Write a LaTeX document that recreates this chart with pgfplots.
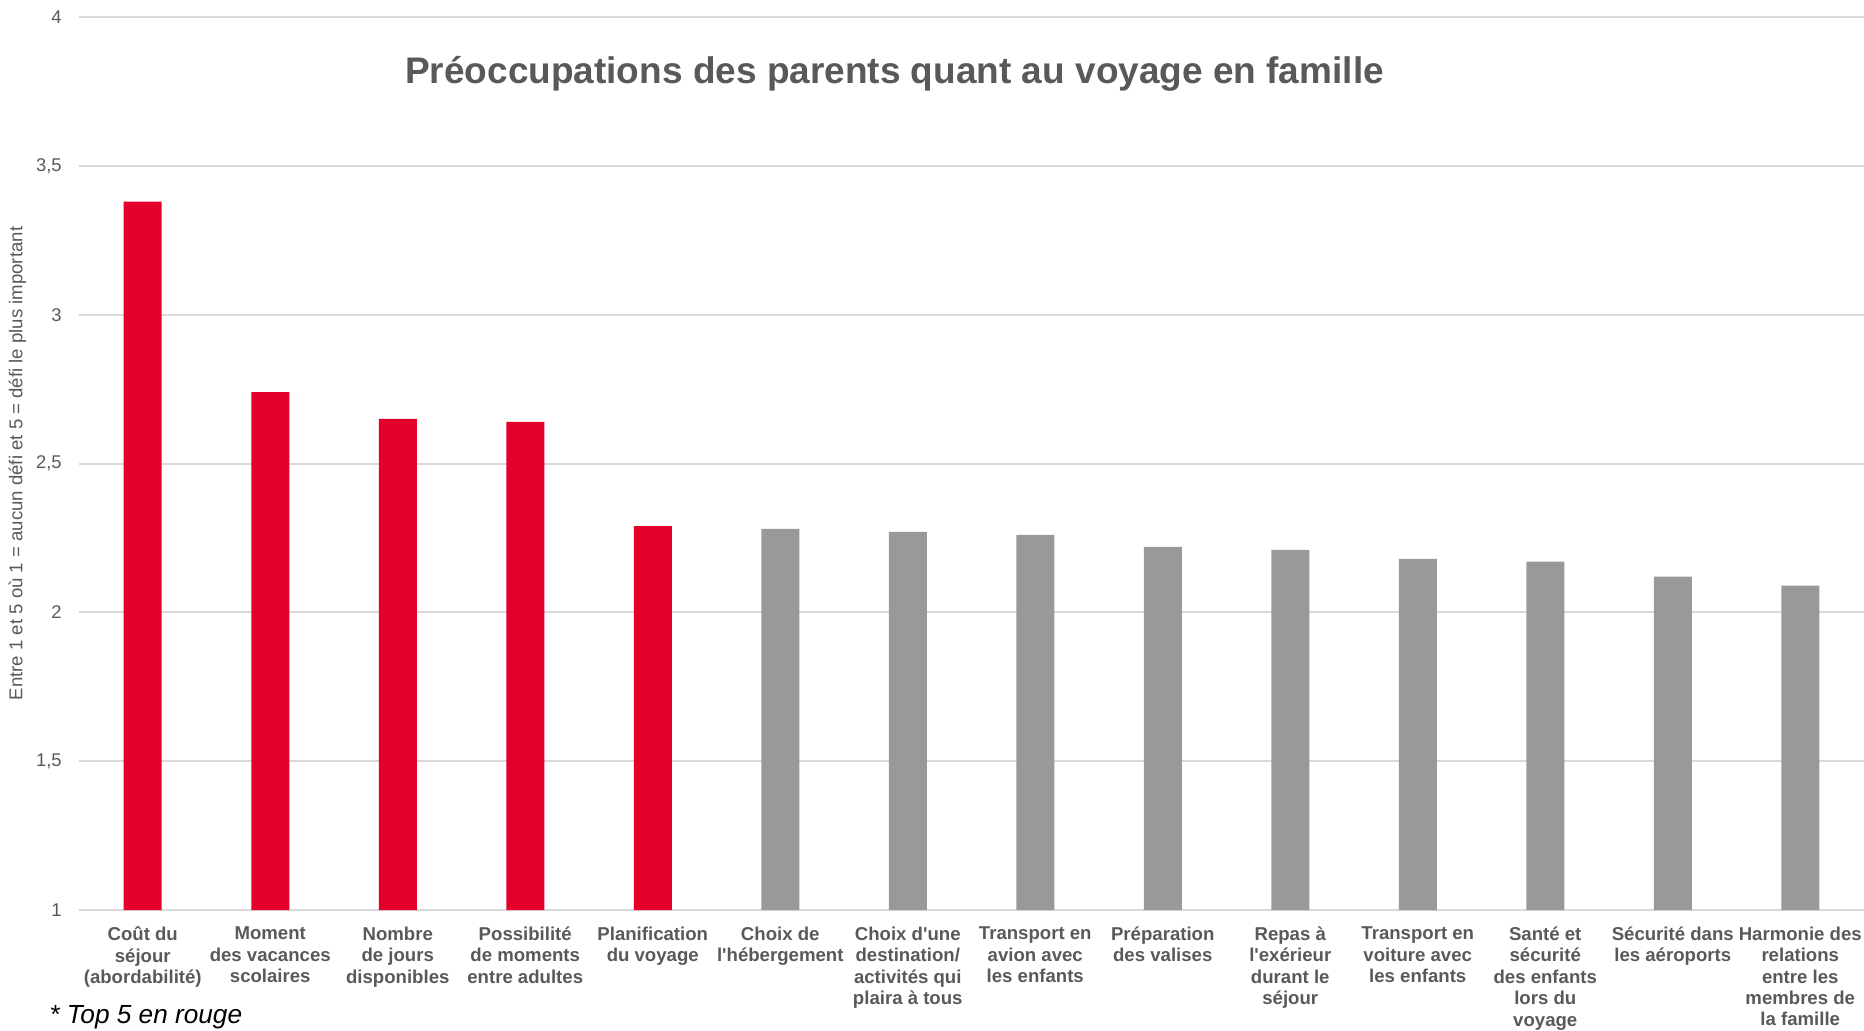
\documentclass[border=0pt]{standalone}
\usepackage{pgfplots}
\pgfplotsset{compat=1.18}
\usepackage{fontspec}
\setmainfont{Liberation Sans}
\definecolor{myred}{RGB}{228,0,43}
\definecolor{mygrey}{RGB}{153,153,153}
\definecolor{txt}{RGB}{89,89,89}
\definecolor{gridc}{RGB}{217,217,217}
\newcommand{\q}{\textquotesingle}
\begin{document}
\begin{tikzpicture}
\begin{axis}[
  scale only axis, width=892.5pt, height=446.5pt,
  xmin=-0.5, xmax=13.5, ymin=1, ymax=4,
  ytick={1,1.5,2,2.5,3,3.5,4},
  xtick={0,1,2,3,4,5,6,7,8,9,10,11,12,13},
  xticklabels={
    {Coût du\\séjour\\(abordabilité)},
    {Moment\\des vacances\\scolaires},
    {Nombre\\de jours\\disponibles},
    {Possibilité\\de moments\\entre adultes},
    {Planification\\du voyage},
    {Choix de\\l\q hébergement},
    {Choix d\q une\\destination/\\activités qui\\plaira à tous},
    {Transport en\\avion avec\\les enfants},
    {Préparation\\des valises},
    {Repas à\\l\q exérieur\\durant le\\séjour},
    {Transport en\\voiture avec\\les enfants},
    {Santé et\\sécurité\\des enfants\\lors du\\voyage},
    {Sécurité dans\\les aéroports},
    {Harmonie des\\relations\\entre les\\membres de\\la famille}},
  axis line style={draw=none},
  major tick length=0pt,
  tick style={draw=none},
  ymajorgrids, grid style={draw=gridc, line width=1pt},
  /pgf/number format/use comma,
  /pgf/number format/assume math mode=true,
  xticklabel style={font=\bfseries\fontsize{9.3}{10.7}\selectfont, text=txt, align=center, anchor=north, inner sep=0pt, yshift=-8.2pt},
  yticklabel style={font=\fontsize{9.2}{11}\selectfont, text=txt, anchor=east, inner sep=0pt, xshift=-8.5pt},
  title={Préoccupations des parents quant au voyage en famille},
  every axis title/.style={at={(axis description cs:0.4569,0.926)}, anchor=base, font=\bfseries\fontsize{18.5}{22}\selectfont, text=txt},
  ylabel={Entre 1 et 5 où 1 = aucun défi et 5 = défi le plus important},
  ylabel style={at={(axis description cs:-0.0345,0.5)}, anchor=center, font=\fontsize{9.3}{11}\selectfont, text=txt},
]
\addplot[ybar, bar width=19pt, fill=myred, draw=none] coordinates {(0,3.38) (1,2.74) (2,2.65) (3,2.64) (4,2.29)};
\addplot[ybar, bar width=19pt, fill=mygrey, draw=none] coordinates {(5,2.28) (6,2.27) (7,2.26) (8,2.22) (9,2.21) (10,2.18) (11,2.17) (12,2.12) (13,2.09)};
\end{axis}
\node[anchor=base west, inner sep=0pt, font=\itshape\fontsize{13.1}{15}\selectfont] at (-15pt,-56.5pt) {* Top 5 en rouge};
\pgfresetboundingbox
\path[use as bounding box] (-39.5pt,-60pt) rectangle (892.5pt,455pt);
\end{tikzpicture}
\end{document}
